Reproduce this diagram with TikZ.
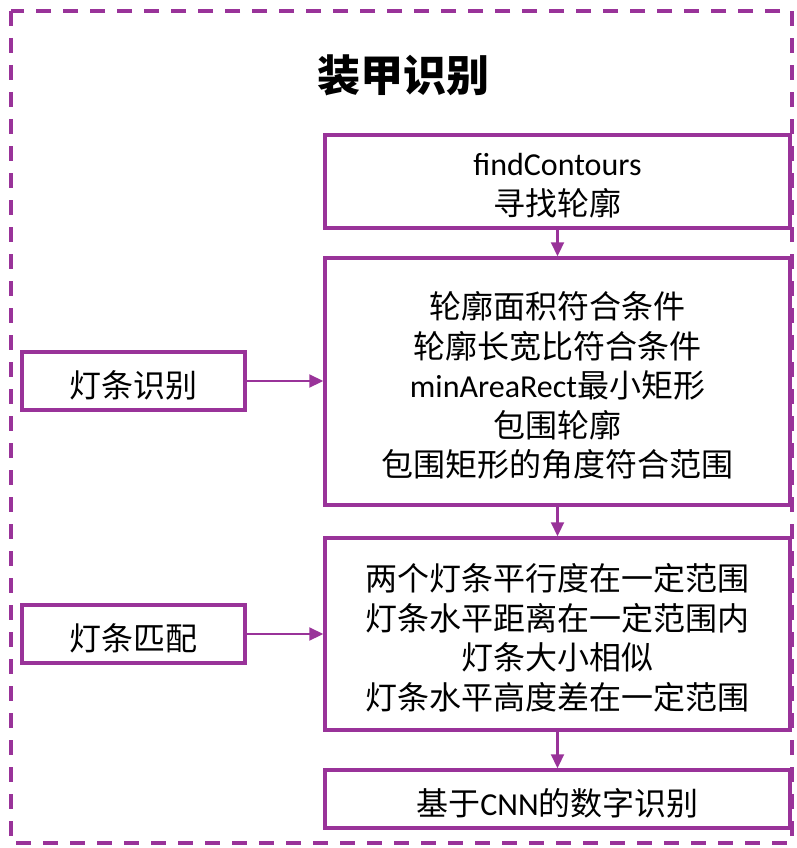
\documentclass[tikz,border=0pt]{standalone}
\usepackage{fontspec}
\setmainfont{Carlito}
\newfontfamily\cjk{Noto Sans CJK SC}
\newcommand{\zh}[1]{{\cjk #1}}
\usetikzlibrary{arrows.meta}
\definecolor{pur}{HTML}{993399}
\begin{document}
\begin{tikzpicture}[x=1pt,y=-1pt,
  box/.style={draw=pur,line width=3.5pt,minimum width=#1,inner sep=0pt},
  txt/.style={align=center,inner sep=0pt,yshift=-4pt,font=\fontsize{32}{39.5}\selectfont},
  conn/.style={draw=pur,line width=2.2pt,-{Triangle[length=14pt,width=13pt]}}]
\useasboundingbox (0,0) rectangle (797,848);
\draw[pur,line width=3.5pt,dash pattern=on 15pt off 12pt] (11,11) rectangle (792,843);
\node[font=\cjk\fontsize{43}{45}\selectfont\bfseries] (title) at (403,75) {装甲识别};
\node[box=465pt,minimum height=93pt,label={[txt]center:{findContours\\\zh{寻找轮廓}}}] (b1) at (557.5,181.5) {};
\node[box=465pt,minimum height=247pt,label={[txt]center:{\zh{轮廓面积符合条件}\\\zh{轮廓长宽比符合条件}\\minAreaRect\zh{最小矩形}\\\zh{包围轮廓}\\\zh{包围矩形的角度符合范围}}}] (b2) at (557.5,381.5) {};
\node[box=465pt,minimum height=192pt,label={[txt]center:{\zh{两个灯条平行度在一定范围}\\\zh{灯条水平距离在一定范围内}\\\zh{灯条大小相似}\\\zh{灯条水平高度差在一定范围}}}] (b3) at (557.5,634) {};
\node[box=465pt,minimum height=58pt,label={[txt]center:{\zh{基于}CNN\zh{的数字识别}}}] (b4) at (557.5,799) {};
\node[box=223pt,minimum height=58pt,label={[txt]center:{\zh{灯条识别}}}] (l1) at (133.5,381) {};
\node[box=223pt,minimum height=58pt,label={[txt]center:{\zh{灯条匹配}}}] (l2) at (133.5,634) {};
\draw[conn] (b1.south) -- (b2.north);
\draw[conn] (b2.south) -- (b3.north);
\draw[conn] (b3.south) -- (b4.north);
\draw[conn] (l1.east) -- (l1.east -| b2.west);
\draw[conn] (l2.east) -- (l2.east -| b3.west);
\end{tikzpicture}
\end{document}
